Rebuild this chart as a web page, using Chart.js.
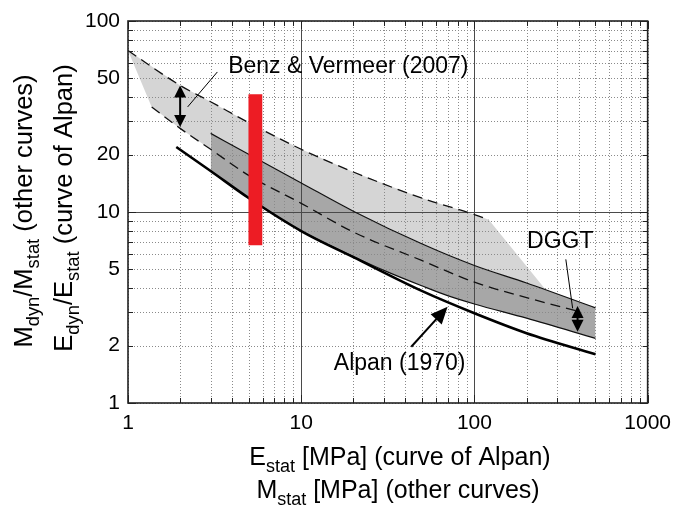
<!DOCTYPE html>
<html><head><meta charset="utf-8">
<script src="https://cdn.jsdelivr.net/npm/chart.js@4.4.1/dist/chart.umd.min.js"></script>
<style>html,body{margin:0;padding:0;background:#fff;}#wrap{width:679px;height:509px;position:relative;}</style>
</head><body><div id="wrap"><canvas id="c" width="679" height="509"></canvas></div>
<script>
// ---- tick definitions ----
const xTickValues = [1,2,3,4,5,6,7,8,9,10,20,30,40,50,60,70,80,90,100,200,300,400,500,600,700,800,900,1000];
const xLabelValues = [1,10,100,1000];
const xMajorValues = [10,100];
const yTickValues = [1,2,3,4,5,6,7,8,9,10,20,30,40,50,60,70,80,90,100];
const yLabelValues = [1,2,5,10,20,50,100];
const yMajorValues = [10];

// ---- Benz & Vermeer (2007) band ----
const benzUpperX = [1, 2, 3, 5, 10, 20, 50, 100, 121];
const benzUpperY = [70, 46, 37.8, 29.3, 21.3, 16.2, 11.8, 9.7, 9.1];
const benzEdgeX = [121, 260];
const benzEdgeY = [9.1, 3.88];
const benzCornerX = [1, 1.37];
const benzCornerY = [70, 35.5];
const benzLowerX = [1.37, 2, 3, 5, 10, 20, 50, 100, 200, 400];
const benzLowerY = [35.5, 27.4, 21.3, 15.5, 11.1, 7.85, 5.56, 4.29, 3.56, 3.02];

// ---- DGGT band ----
const dggtUpperX = [3, 5, 10, 20, 50, 100, 200, 500];
const dggtUpperY = [25.8, 20.0, 14.2, 10.1, 6.8, 5.25, 4.25, 3.15];
const dggtLowerX = [3, 5, 10, 20, 30, 50, 70, 100, 200, 500];
const dggtLowerY = [16.4, 11.8, 7.95, 5.85, 4.95, 4.1, 3.65, 3.3, 2.78, 2.18];

// ---- Alpan (1970) ----
const alpanX = [1.9, 3, 5, 10, 20, 50, 100, 200, 500];
const alpanY = [21.9, 16.4, 11.8, 7.95, 5.8, 3.85, 2.95, 2.32, 1.8];

// ---- red bar ----
const redBarX = [4.96, 5.96];
const redBarY = [6.7, 41.4];

// ---- annotations (data coordinates) ----
const benzLabel = {x: 18.7, y: 53.2, text: 'Benz & Vermeer (2007)'};
const benzLeader = [[3.28, 54.1], [2.21, 35.5]];
const benzArrow = [[2, 46], [2, 27.9]];
const dggtLabel = {x: 313, y: 6.46, text: 'DGGT'};
const dggtLeader = [[337, 5.65], [369, 3.13]];
const dggtArrow = [[394, 3.22], [394, 2.36]];
const alpanLabel = {x: 37, y: 1.49, text: 'Alpan (1970)'};
const alpanArrow = [[43.2, 1.97], [70, 3.19]];

const FONT = "'Liberation Sans', Arial, Helvetica, sans-serif";
const LIGHT = '#d5d5d5', DARK = '#a7a7a7', RED = '#ed1c24';

const pts = (xs, ys) => xs.map((x, i) => ({x: x, y: ys[i]}));
const lightShape = [].concat(
  pts(benzUpperX, benzUpperY),
  pts(benzEdgeX.slice(1), benzEdgeY.slice(1)),
  pts(dggtUpperX, dggtUpperY).filter(p => p.x < benzEdgeX[1]).reverse(),
  pts(benzLowerX, benzLowerY).filter(p => p.x <= dggtUpperX[0]).reverse()
);
const redShape = [
  {x: redBarX[0], y: redBarY[0]}, {x: redBarX[0], y: redBarY[1]},
  {x: redBarX[1], y: redBarY[1]}, {x: redBarX[1], y: redBarY[0]}
];

const base = {pointRadius: 0, pointHoverRadius: 0, tension: 0, fill: false, borderColor: '#111'};
const smooth = {cubicInterpolationMode: 'monotone'};
const datasets = [
  Object.assign({}, base, {label: 'Benz band', data: lightShape, fill: 'shape', backgroundColor: LIGHT, borderWidth: 0, borderColor: 'rgba(0,0,0,0)', order: 10}),
  Object.assign({}, base, smooth, {label: 'DGGT band', data: pts(dggtUpperX, dggtUpperY), fill: 5, backgroundColor: DARK, borderWidth: 0, borderColor: 'rgba(0,0,0,0)', order: 9}),
  Object.assign({}, base, smooth, {label: 'Benz upper', data: pts(benzUpperX, benzUpperY), borderWidth: 1.3, borderDash: [10, 6], order: 5}),
  Object.assign({}, base, smooth, {label: 'Benz lower', data: pts(benzLowerX, benzLowerY), borderWidth: 1.3, borderDash: [10, 6], order: 5}),
  Object.assign({}, base, smooth, {label: 'DGGT upper', data: pts(dggtUpperX, dggtUpperY), borderWidth: 1.2, order: 5}),
  Object.assign({}, base, smooth, {label: 'DGGT lower', data: pts(dggtLowerX, dggtLowerY), borderWidth: 1.2, order: 5}),
  Object.assign({}, base, smooth, {label: 'Alpan (1970)', data: pts(alpanX, alpanY), borderWidth: 2.6, borderColor: '#000', order: 4}),
  Object.assign({}, base, {label: 'red bar', data: redShape, fill: 'shape', backgroundColor: RED, borderWidth: 0, borderColor: 'rgba(0,0,0,0)', order: 0})
];

function drawRich(ctx, segs, cx, cy, size, rot) {
  ctx.save();
  ctx.translate(cx, cy);
  if (rot) ctx.rotate(rot);
  let w = 0;
  for (const [t, sub] of segs) { ctx.font = (sub ? size * 0.72 : size) + 'px ' + FONT; w += ctx.measureText(t).width; }
  let x = -w / 2;
  ctx.textAlign = 'left'; ctx.textBaseline = 'alphabetic'; ctx.fillStyle = '#000';
  for (const [t, sub] of segs) {
    ctx.font = (sub ? size * 0.72 : size) + 'px ' + FONT;
    ctx.fillText(t, x, sub ? size * 0.26 : 0);
    x += ctx.measureText(t).width;
  }
  ctx.restore();
}
function head(ctx, tx, ty, fx, fy, len, hw) {
  const a = Math.atan2(ty - fy, tx - fx);
  ctx.beginPath();
  ctx.moveTo(tx, ty);
  ctx.lineTo(tx - len * Math.cos(a) + hw * Math.sin(a), ty - len * Math.sin(a) - hw * Math.cos(a));
  ctx.lineTo(tx - len * Math.cos(a) - hw * Math.sin(a), ty - len * Math.sin(a) + hw * Math.cos(a));
  ctx.closePath();
  ctx.fill();
}

const gridPlugin = {
  id: 'gridOverFill',
  afterDatasetDraw(chart, args) {
    if (args.index !== 1) return;
    const {ctx, chartArea: a, scales: {x, y}} = chart;
    ctx.save();
    ctx.lineWidth = 1;
    for (const v of xTickValues) {
      const px = Math.round(x.getPixelForValue(v)) + 0.5;
      const major = xMajorValues.includes(v);
      ctx.strokeStyle = major ? '#4a4a4a' : '#8a8a8a';
      ctx.setLineDash(major ? [] : [1, 2]);
      ctx.beginPath(); ctx.moveTo(px, a.top); ctx.lineTo(px, a.bottom); ctx.stroke();
    }
    for (const v of yTickValues) {
      const py = Math.round(y.getPixelForValue(v)) + 0.5;
      const major = yMajorValues.includes(v);
      ctx.strokeStyle = major ? '#4a4a4a' : '#8a8a8a';
      ctx.setLineDash(major ? [] : [1, 2]);
      ctx.beginPath(); ctx.moveTo(a.left, py); ctx.lineTo(a.right, py); ctx.stroke();
    }
    ctx.restore();
  }
};

const decorPlugin = {
  id: 'decor',
  afterDraw(chart) {
    const {ctx, chartArea: a, scales: {x, y}} = chart;
    const X = v => x.getPixelForValue(v), Y = v => y.getPixelForValue(v);
    ctx.save();
    // inward ticks
    ctx.strokeStyle = '#222'; ctx.lineWidth = 1; ctx.setLineDash([]);
    for (const v of xTickValues) {
      const px = Math.round(X(v)) + 0.5, L = xLabelValues.includes(v) ? 8 : 5;
      ctx.beginPath(); ctx.moveTo(px, a.bottom); ctx.lineTo(px, a.bottom - L);
      ctx.moveTo(px, a.top); ctx.lineTo(px, a.top + L); ctx.stroke();
    }
    for (const v of yTickValues) {
      const py = Math.round(Y(v)) + 0.5, L = (v === 1 || v === 10 || v === 100) ? 8 : 5;
      ctx.beginPath(); ctx.moveTo(a.left, py); ctx.lineTo(a.left + L, py);
      ctx.moveTo(a.right, py); ctx.lineTo(a.right - L, py); ctx.stroke();
    }
    // frame
    ctx.strokeStyle = '#222'; ctx.lineWidth = 1.6;
    ctx.strokeRect(a.left, a.top, a.right - a.left, a.bottom - a.top);

    // annotations
    ctx.fillStyle = '#000'; ctx.strokeStyle = '#000';
    ctx.lineWidth = 1;
    ctx.beginPath(); ctx.moveTo(X(benzLeader[0][0]), Y(benzLeader[0][1])); ctx.lineTo(X(benzLeader[1][0]), Y(benzLeader[1][1])); ctx.stroke();
    ctx.beginPath(); ctx.moveTo(X(dggtLeader[0][0]), Y(dggtLeader[0][1])); ctx.lineTo(X(dggtLeader[1][0]), Y(dggtLeader[1][1])); ctx.stroke();
    // double arrows
    for (const arr of [benzArrow, dggtArrow]) {
      const x1 = X(arr[0][0]), y1 = Y(arr[0][1]), x2 = X(arr[1][0]), y2 = Y(arr[1][1]);
      ctx.lineWidth = 2;
      ctx.beginPath(); ctx.moveTo(x1, y1 + 6); ctx.lineTo(x2, y2 - 6); ctx.stroke();
      head(ctx, x1, y1, x2, y2, 12, 6);
      head(ctx, x2, y2, x1, y1, 12, 6);
    }
    // Alpan arrow
    {
      const x1 = X(alpanArrow[0][0]), y1 = Y(alpanArrow[0][1]), x2 = X(alpanArrow[1][0]), y2 = Y(alpanArrow[1][1]);
      ctx.lineWidth = 2;
      const a2 = Math.atan2(y2 - y1, x2 - x1);
      ctx.beginPath(); ctx.moveTo(x1, y1); ctx.lineTo(x2 - 10 * Math.cos(a2), y2 - 10 * Math.sin(a2)); ctx.stroke();
      head(ctx, x2, y2, x1, y1, 17, 7.5);
    }
    // labels
    ctx.font = '23px ' + FONT; ctx.textAlign = 'center'; ctx.textBaseline = 'alphabetic';
    for (const l of [benzLabel, dggtLabel, alpanLabel]) ctx.fillText(l.text, X(l.x), Y(l.y));

    // axis titles
    drawRich(ctx, [['E', 0], ['stat', 1], [' [MPa] (curve of Alpan)', 0]], 400, 465, 25, 0);
    drawRich(ctx, [['M', 0], ['stat', 1], [' [MPa] (other curves)', 0]], 398, 498, 25, 0);
    drawRich(ctx, [['M', 0], ['dyn', 1], ['/M', 0], ['stat', 1], [' (other curves)', 0]], 32, 211, 25.5, -Math.PI / 2);
    drawRich(ctx, [['E', 0], ['dyn', 1], ['/E', 0], ['stat', 1], [' (curve of Alpan)', 0]], 72, 208, 25.5, -Math.PI / 2);
    ctx.restore();
  }
};

new Chart(document.getElementById('c'), {
  type: 'line',
  data: {datasets: datasets},
  options: {
    responsive: false,
    animation: false,
    devicePixelRatio: 1,
    layout: {padding: {left: 0, right: 27, top: 21, bottom: 0}},
    plugins: {legend: {display: false}, tooltip: {enabled: false}},
    events: [],
    scales: {
      x: {
        type: 'logarithmic', min: 1, max: 1000, position: 'bottom',
        grid: {display: false, drawTicks: false}, border: {display: false},
        afterBuildTicks: s => { s.ticks = xTickValues.map(v => ({value: v})); },
        afterFit: s => { s.height = 106; },
        ticks: {autoSkip: false, maxRotation: 0, minRotation: 0, padding: 8, color: '#000',
          font: {size: 21, family: FONT},
          callback: v => xLabelValues.includes(v) ? String(v) : ''}
      },
      y: {
        type: 'logarithmic', min: 1, max: 100, position: 'left',
        grid: {display: false, drawTicks: false}, border: {display: false},
        afterBuildTicks: s => { s.ticks = yTickValues.map(v => ({value: v})); },
        afterFit: s => { s.width = 128; },
        ticks: {autoSkip: false, padding: 8, color: '#000',
          font: {size: 21, family: FONT},
          callback: v => yLabelValues.includes(v) ? String(v) : ''}
      }
    }
  },
  plugins: [gridPlugin, decorPlugin]
});
</script></body></html>
